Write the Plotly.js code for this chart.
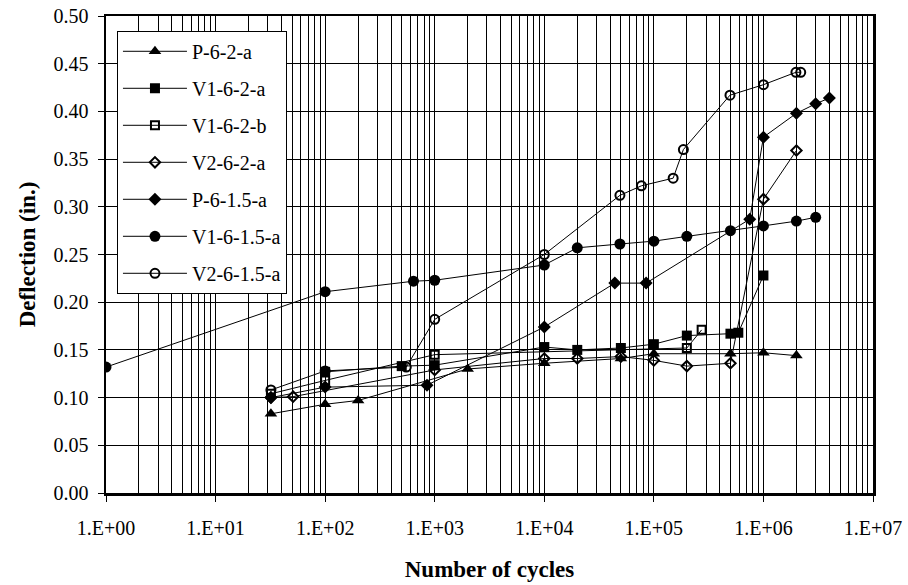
<!DOCTYPE html>
<html>
<head>
<meta charset="utf-8">
<script src="https://cdn.plot.ly/plotly-3.0.1.min.js"></script>
<style>html,body{margin:0;padding:0;background:#fff;}#chart{width:908px;height:585px;}</style>
</head>
<body>
<div id="chart"></div>
<script>
// ---- data ----
const seriesNames = ["P-6-2-a","V1-6-2-a","V1-6-2-b","V2-6-2-a","P-6-1.5-a","V1-6-1.5-a","V2-6-1.5-a"];

const p62a_x = [32, 100, 200, 2000, 10000, 50000, 100000, 500000, 1000000, 2000000];
const p62a_y = [0.083, 0.093, 0.097, 0.130, 0.136, 0.141, 0.146, 0.146, 0.147, 0.144];

const v162a_x = [100, 500, 1000, 10000, 20000, 50000, 100000, 200000, 500000, 590000, 1000000];
const v162a_y = [0.127, 0.133, 0.134, 0.153, 0.150, 0.152, 0.156, 0.165, 0.167, 0.168, 0.228];

const v162b_x = [32, 100, 1000, 200000, 273000];
const v162b_y = [0.104, 0.118, 0.145, 0.152, 0.171];

const v262a_x = [32, 51, 1000, 10000, 20000, 50000, 100000, 200000, 500000, 1000000, 2000000];
const v262a_y = [0.100, 0.101, 0.129, 0.141, 0.141, 0.143, 0.139, 0.133, 0.136, 0.308, 0.359];

const p615a_x = [32, 100, 850, 10000, 44000, 85000, 750000, 1000000, 2000000, 3000000, 4000000];
const p615a_y = [0.100, 0.111, 0.113, 0.174, 0.220, 0.220, 0.287, 0.373, 0.398, 0.408, 0.414];

const v1615a_x = [1, 100, 640, 1000, 10000, 20000, 49000, 100000, 200000, 500000, 1000000, 2000000, 3000000];
const v1615a_y = [0.132, 0.211, 0.222, 0.223, 0.239, 0.257, 0.261, 0.264, 0.269, 0.275, 0.280, 0.285, 0.289];

const v2615a_x = [32, 100, 550, 1000, 10000, 49000, 77000, 150000, 186000, 495000, 1000000, 1980000, 2190000];
const v2615a_y = [0.108, 0.128, 0.132, 0.182, 0.250, 0.312, 0.322, 0.330, 0.360, 0.417, 0.428, 0.441, 0.441];

const xTickVals = [1, 10, 100, 1000, 10000, 100000, 1000000, 10000000];
const xTickText = ["1.E+00","1.E+01","1.E+02","1.E+03","1.E+04","1.E+05","1.E+06","1.E+07"];

// ---- traces ----
const xs = [p62a_x, v162a_x, v162b_x, v262a_x, p615a_x, v1615a_x, v2615a_x];
const ys = [p62a_y, v162a_y, v162b_y, v262a_y, p615a_y, v1615a_y, v2615a_y];
const symbols = ["triangle-up","square","square-open","diamond-open","diamond","circle","circle-open"];
const sizes = [11, 10, 8, 8, 10, 11, 9];

const traces = seriesNames.map((n, i) => ({
  type: "scatter",
  mode: "lines+markers",
  name: n,
  x: xs[i],
  y: ys[i],
  legendgroup: "g" + i,
  line: {color: "#000", width: 1},
  marker: {symbol: symbols[i], size: sizes[i], color: "#000",
           line: {color: "#000", width: symbols[i].indexOf("open") >= 0 ? 2 : 0}}
}));

const font = "Liberation Serif, Times New Roman, serif";

const layout = {
  width: 908, height: 585,
  margin: {l: 106, r: 35, t: 16, b: 92},
  paper_bgcolor: "#fff", plot_bgcolor: "#fff",
  font: {family: font, color: "#000", size: 19},
  showlegend: true,
  legend: {
    x: 0.0143, xanchor: "left", y: 0.969, yanchor: "top",
    bgcolor: "#fff", bordercolor: "#000", borderwidth: 1,
    font: {family: font, size: 20, color: "#000"},
    traceorder: "grouped", tracegroupgap: 8,
    itemwidth: 64
  },
  xaxis: {
    type: "log", range: [0, 7],
    tickvals: xTickVals, ticktext: xTickText,
    ticks: "outside", ticklen: 6, tickcolor: "#000",
    ticklabelstandoff: 9,
    showgrid: true, gridcolor: "#000", gridwidth: 1,
    minor: {dtick: "D1", showgrid: true, gridcolor: "#000", gridwidth: 1, ticks: ""},
    showline: true, linecolor: "#000", linewidth: 2.5, mirror: true,
    zeroline: false,
    tickfont: {family: font, size: 20, color: "#000"},
    title: {text: "Number of cycles", font: {family: font, size: 23, color: "#000", weight: "bold"}, standoff: 24}
  },
  yaxis: {
    range: [0, 0.5], dtick: 0.05, tickformat: ".2f",
    ticks: "outside", ticklen: 6, tickcolor: "#000",
    ticklabelstandoff: 5,
    showgrid: true, gridcolor: "#000", gridwidth: 1,
    showline: true, linecolor: "#000", linewidth: 2.5, mirror: true,
    zeroline: false,
    tickfont: {family: font, size: 20, color: "#000"},
    title: {text: "Deflection (in.)", font: {family: font, size: 23, color: "#000", weight: "bold"}, standoff: 12}
  }
};

Plotly.newPlot("chart", traces, layout, {displayModeBar: false, staticPlot: true});
</script>
</body>
</html>
